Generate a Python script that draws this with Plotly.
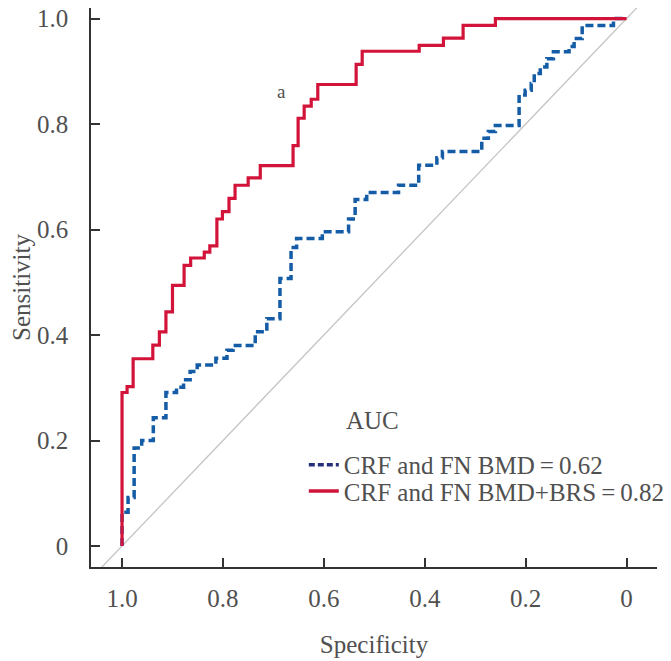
import plotly.graph_objects as go

# ---- data ----
tick_vals = [1.0, 0.8, 0.6, 0.4, 0.2, 0.0]
tick_text = ["1.0", "0.8", "0.6", "0.4", "0.2", "0"]

brs_spec = [1.0, 1.0, 0.990, 0.978, 0.939, 0.926, 0.913, 0.900, 0.877, 0.864,
            0.837, 0.826, 0.812, 0.801, 0.788, 0.776, 0.750, 0.726, 0.661, 0.651,
            0.639, 0.625, 0.612, 0.536, 0.524, 0.411, 0.363, 0.324, 0.260, 0.0]
brs_sens = [0.0, 0.291, 0.302, 0.355, 0.381, 0.406, 0.444, 0.494, 0.532, 0.546,
            0.557, 0.569, 0.620, 0.634, 0.659, 0.684, 0.698, 0.721, 0.759, 0.811,
            0.834, 0.847, 0.875, 0.913, 0.938, 0.949, 0.963, 0.987, 1.0, 1.0]

bmd_spec = [1.0, 1.0, 0.988, 0.976, 0.961, 0.938, 0.913, 0.892, 0.878, 0.865,
            0.851, 0.814, 0.792, 0.780, 0.736, 0.713, 0.687, 0.665, 0.654, 0.603,
            0.551, 0.538, 0.515, 0.452, 0.412, 0.376, 0.365, 0.287, 0.274, 0.260,
            0.213, 0.201, 0.189, 0.183, 0.171, 0.158, 0.145, 0.114, 0.104, 0.088,
            0.026, 0.0]
bmd_sens = [0.0, 0.064, 0.092, 0.186, 0.200, 0.243, 0.291, 0.301, 0.315, 0.331,
            0.343, 0.356, 0.371, 0.380, 0.406, 0.431, 0.507, 0.566, 0.583, 0.596,
            0.620, 0.657, 0.670, 0.684, 0.722, 0.736, 0.748, 0.773, 0.786, 0.797,
            0.855, 0.864, 0.877, 0.896, 0.908, 0.924, 0.937, 0.947, 0.962, 0.987,
            1.0, 1.0]

ref_spec = [1.1, -0.1]
ref_sens = [-0.1, 1.1]

names = ["CRF and FN BMD\u2009=\u20090.62", "CRF and FN BMD+BRS\u2009=\u20090.82"]

RED = "#d3143a"
BLUE = "#145ca6"
NAVY = "#26307a"
GREY_TXT = "#505050"
FONT = "Liberation Serif"

fig = go.Figure()

# reference diagonal
fig.add_trace(go.Scatter(x=ref_spec, y=ref_sens, mode="lines",
                         line=dict(color="#c4c4c4", width=1.3),
                         showlegend=False, hoverinfo="skip"))

# model curves
fig.add_trace(go.Scatter(x=bmd_spec, y=bmd_sens, mode="lines", line_shape="hv",
                         line=dict(color=BLUE, width=3.5, dash="8px,4px"),
                         showlegend=False))
fig.add_trace(go.Scatter(x=brs_spec, y=brs_sens, mode="lines", line_shape="hv",
                         line=dict(color=RED, width=3.2),
                         showlegend=False))

# legend entries
fig.add_trace(go.Scatter(x=[None], y=[None], mode="lines", name=names[0],
                         line=dict(color=NAVY, width=3.5, dash="6px,3px"),
                         legend="legend"))
fig.add_trace(go.Scatter(x=[None], y=[None], mode="lines", name=names[1],
                         line=dict(color=RED, width=3.5),
                         legend="legend2"))

axis_common = dict(
    showgrid=False, zeroline=False, showline=True, linecolor="#333333", linewidth=1.5,
    ticks="inside", ticklen=9, tickwidth=1.5, tickcolor="#333333",
    tickvals=tick_vals, ticktext=tick_text, ticklabeloverflow="allow",
    tickfont=dict(family=FONT, size=25, color=GREY_TXT),
    mirror=False, automargin=False,
)

fig.update_layout(
    width=663, height=653,
    margin=dict(l=83, r=14, t=0, b=94),
    plot_bgcolor="white", paper_bgcolor="white",
    xaxis=dict(range=[1.0615, -0.0603], title=dict(text="Specificity",
               font=dict(family=FONT, size=25, color=GREY_TXT), standoff=25),
               ticklabelstandoff=8, **axis_common),
    yaxis=dict(range=[-0.0398, 1.02], title=dict(text="Sensitivity",
               font=dict(family=FONT, size=25, color=GREY_TXT), standoff=21),
               ticklabelstandoff=16, **axis_common),
    legend=dict(x=0.376, y=0.1825, xanchor="left", yanchor="middle",
                bgcolor="rgba(0,0,0,0)", font=dict(family=FONT, size=25, color=GREY_TXT),
                itemwidth=30),
    legend2=dict(x=0.376, y=0.1353, xanchor="left", yanchor="middle",
                 bgcolor="rgba(0,0,0,0)", font=dict(family=FONT, size=25, color=GREY_TXT),
                 itemwidth=30),
    annotations=[
        dict(text="AUC", xref="paper", yref="paper", x=0.447, y=0.2624,
             xanchor="left", yanchor="middle", showarrow=False,
             font=dict(family=FONT, size=25, color=GREY_TXT)),
        dict(text="a", xref="x", yref="y", x=0.683, y=0.862,
             xanchor="center", yanchor="middle", showarrow=False,
             font=dict(family=FONT, size=19, color=GREY_TXT)),
    ],
)

fig.write_html("out.html")
